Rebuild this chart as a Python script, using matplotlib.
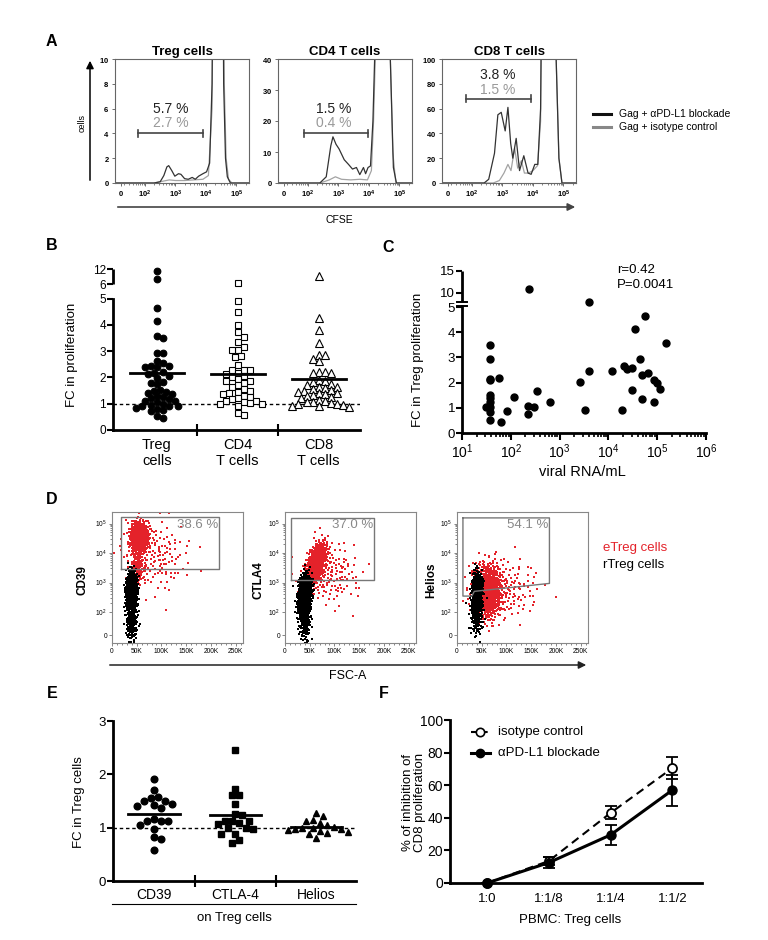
import numpy as np
import matplotlib
matplotlib.use('Agg')
import matplotlib.pyplot as plt
from matplotlib.transforms import blended_transform_factory
from matplotlib.patches import FancyArrowPatch
from matplotlib.lines import Line2D

plt.rcParams['font.family'] = ['Liberation Sans', 'DejaVu Sans']
plt.rcParams['mathtext.fontset'] = 'custom'
plt.rcParams['mathtext.rm'] = 'Liberation Sans'
plt.rcParams['mathtext.bf'] = 'Liberation Sans:bold'
plt.rcParams['mathtext.it'] = 'Liberation Sans:italic'
plt.rcParams['mathtext.sf'] = 'Liberation Sans'

# ------------------------------------------------------------------ data
# Panel A : CFSE histograms (x in log10 units of CFSE, y = cells)
hist_titles = ['Treg cells', 'CD4 T cells', 'CD8 T cells']
hist_ymax = [10, 40, 100]
hist_yticks = [[0, 2, 4, 6, 8, 10], [0, 10, 20, 30, 40], [0, 20, 40, 60, 80, 100]]
pct_blockade = ['5.7 %', '1.5 %', '3.8 %']
pct_isotype = ['2.7 %', '0.4 %', '1.5 %']
gate_lo = [1.77, 1.87, 1.79]
gate_hi = [3.90, 3.97, 3.92]

treg_blk_x = [1.02, 2.30, 2.50, 2.62, 2.72, 2.78, 2.88, 2.98, 3.10, 3.18, 3.30, 3.42, 3.55,
              3.65, 3.76, 3.90, 4.02, 4.12, 4.20, 4.30, 4.50, 4.58, 4.64, 4.70, 4.80, 5.41]
treg_blk_y = [0, 0, 0.1, 0.6, 1.3, 1.4, 1.0, 0.55, 0.75, 0.7, 0.35, 0.3, 0.45,
              0.3, 0.55, 0.75, 0.9, 1.6, 8, 40, 40, 8, 2, 0.5, 0, 0]
treg_iso_x = [1.02, 2.30, 2.60, 2.80, 3.00, 3.30, 3.60, 3.90, 4.08, 4.20, 4.30, 4.50, 4.60,
              4.66, 4.74, 4.85, 5.41]
treg_iso_y = [0, 0, 0.15, 0.25, 0.2, 0.2, 0.25, 0.3, 0.6, 6, 40, 40, 8, 2, 0.3, 0, 0]

cd4_blk_x = [1.02, 2.39, 2.60, 2.75, 2.82, 2.92, 3.02, 3.19, 3.33, 3.46, 3.59, 3.70, 3.82,
             3.89, 3.97, 4.05, 4.13, 4.20, 4.30, 4.62, 4.70, 4.80, 4.90, 5.41]
cd4_blk_y = [0, 0, 2, 12, 14.9, 12.5, 11, 7.5, 6, 4.5, 5, 2.7, 5, 3, 5, 5.5, 20, 45, 100,
             100, 40, 5, 0, 0]
cd4_iso_x = [1.02, 2.40, 2.70, 2.90, 3.10, 3.40, 3.70, 3.95, 4.08, 4.15, 4.22, 4.30, 4.62,
             4.70, 4.78, 4.88, 5.41]
cd4_iso_y = [0, 0, 1.0, 2.0, 1.2, 1.0, 1.2, 1.0, 4, 20, 45, 100, 100, 40, 10, 0, 0]

cd8_blk_x = [1.02, 2.40, 2.55, 2.74, 2.85, 2.96, 3.09, 3.18, 3.27, 3.34, 3.45, 3.56, 3.70,
             3.84, 3.94, 4.06, 4.16, 4.25, 4.32, 4.68, 4.76, 4.85, 4.95, 5.41]
cd8_blk_y = [0, 0, 3, 24, 55, 57, 42, 61, 32, 20, 36, 10, 22, 8, 7, 15, 15, 60, 250, 250,
             100, 20, 0, 0]
cd8_iso_x = [1.02, 2.70, 2.90, 3.05, 3.18, 3.28, 3.40, 3.50, 3.62, 3.72, 3.85, 4.00, 4.15,
             4.25, 4.32, 4.68, 4.76, 4.85, 4.95, 5.41]
cd8_iso_y = [0, 0, 2, 8, 15, 10, 28, 12, 18, 8, 8, 10, 14, 50, 250, 250, 100, 20, 0, 0]

legend_A = ['Gag + \u03b1PD-L1 blockade', 'Gag + isotype control']

# Panel B : fold change in proliferation
b_labels = ['Treg\ncells', 'CD4\nT cells', 'CD8\nT cells']
treg_fc = [11.2, 8.0, 4.63, 4.13, 3.56, 3.49, 2.93, 2.93, 2.62, 2.54, 2.45, 2.43, 2.41, 2.38,
           2.22, 2.18, 2.12, 2.05, 1.97, 1.82, 1.78, 1.74, 1.52, 1.50, 1.46, 1.40, 1.37, 1.30,
           1.25, 1.20, 1.16, 1.12, 1.10, 1.05, 1.00, 0.96, 0.93, 0.92, 0.90, 0.85, 0.80, 0.76,
           0.72, 0.55, 0.45]
cd4_fc = [6.5, 4.91, 4.47, 3.99, 3.74, 3.55, 3.34, 3.15, 3.05, 3.05, 2.83, 2.77, 2.49, 2.30,
          2.30, 2.28, 2.18, 2.12, 2.05, 2.00, 1.95, 1.88, 1.85, 1.80, 1.72, 1.62, 1.55, 1.50,
          1.45, 1.40, 1.36, 1.30, 1.26, 1.20, 1.16, 1.12, 1.10, 1.05, 1.02, 1.00, 0.98, 0.92,
          0.65, 0.57]
cd8_fc = [9.2, 4.24, 3.80, 3.30, 2.86, 2.86, 2.71, 2.61, 2.20, 2.20, 2.17, 2.17, 1.90, 1.85,
          1.83, 1.75, 1.70, 1.65, 1.64, 1.60, 1.55, 1.52, 1.50, 1.45, 1.42, 1.40, 1.35, 1.32,
          1.30, 1.25, 1.20, 1.15, 1.10, 1.08, 1.05, 1.02, 1.00, 0.98, 0.95, 0.92, 0.90, 0.88]
b_medians = [2.18, 2.12, 1.95]

# Panel C : viral load vs FC in Treg proliferation
c_viral = [31, 38, 38, 38, 38, 38, 38, 38, 38, 38, 38, 57, 63, 84, 119, 240, 229, 229, 302,
           351, 647, 2600, 3340, 4030, 4030, 11750, 18700, 20400, 24500, 29900, 29900, 35100,
           44400, 49400, 55000, 49400, 64600, 88000, 85700, 100000, 116000, 152000]
c_fc = [1.04, 3.51, 2.95, 2.16, 2.09, 1.52, 1.39, 1.22, 1.03, 0.83, 0.53, 2.18, 0.42, 0.88,
        1.43, 11.0, 1.09, 0.75, 1.03, 1.66, 1.25, 2.03, 0.90, 2.45, 8.0, 2.45, 0.93, 2.65,
        2.52, 2.56, 1.70, 4.13, 2.94, 2.32, 4.64, 1.36, 2.37, 1.22, 2.12, 1.99, 1.76, 3.58]
c_stats = ['r=0.42', 'P=0.0041']

# Panel D : FSC-A vs marker dot plots
d_markers = ['CD39', 'CTLA4', 'Helios']
d_pct = ['38.6 %', '37.0 %', '54.1 %']
# cell populations: (FSC-A centre [K], log10 centre, sd FSC [K], sd log10, corr, n events)
d_etreg = [
    [(55, 4.55, 9, 0.25, 0.0, 600), (52, 3.55, 7, 0.30, 0.0, 120), (85, 3.9, 35, 0.6, 0.0, 160)],
    [(62, 3.60, 10, 0.35, 0.55, 800), (90, 3.30, 30, 0.5, 0.0, 160)],
    [(62, 2.70, 14, 0.45, 0.0, 800), (95, 2.80, 35, 0.5, 0.0, 160)],
]
d_rtreg = [
    [(40, 2.75, 5, 0.28, 0.0, 1100), (40, 1.80, 6, 0.45, 0.0, 250)],
    [(40, 2.60, 6, 0.30, 0.2, 1200), (40, 1.80, 6, 0.40, 0.0, 220)],
    [(42, 2.90, 4, 0.15, 0.0, 1000), (40, 2.30, 6, 0.50, 0.0, 400)],
]
d_gates = [
    [(18, 3.46), (217, 3.46), (217, 5.22), (18, 5.22), (18, 3.46)],
    [(12, 3.08), (180, 3.08), (180, 5.19), (12, 5.19), (12, 3.08)],
    [(12, 5.19), (187, 5.19), (187, 2.97), (35, 2.70), (30, 2.54), (12, 2.54), (12, 5.19)],
]

# Panel E : FC in Treg cells for markers
e_labels = ['CD39', 'CTLA-4', 'Helios']
cd39_fc = [1.92, 1.70, 1.58, 1.55, 1.50, 1.50, 1.45, 1.42, 1.40, 1.36, 1.17, 1.12, 1.12, 1.12,
           1.05, 0.97, 0.82, 0.78, 0.58]
ctla4_fc = [2.45, 1.73, 1.61, 1.61, 1.44, 1.26, 1.23, 1.13, 1.13, 1.12, 1.08, 1.07, 1.00, 1.00,
            0.98, 0.89, 0.89, 0.76, 0.72]
helios_fc = [1.27, 1.22, 1.15, 1.12, 1.08, 1.05, 1.02, 1.00, 1.00, 0.98, 0.97, 0.95, 0.93,
             0.92, 0.90, 0.88, 0.80]
e_medians = [1.25, 1.23, 1.01]

# Panel F : suppression assay
f_ratios = ['1:0', '1:1/8', '1:1/4', '1:1/2']
iso_mean = [0, 13.5, 43, 70.5]
iso_err = [0, 2.5, 4, 6.5]
blk_mean = [0, 12.5, 29.5, 57]
blk_err = [0, 3.5, 6, 9.5]

# ------------------------------------------------------------------ helpers
W, H = 768, 940
fig = plt.figure(figsize=(W / 100, H / 100), dpi=100)


def rect(x0, y0, x1, y1):
    return [x0 / W, 1 - y1 / H, (x1 - x0) / W, (y1 - y0) / H]


def ftext(x, y, s, **kw):
    kw.setdefault('ha', 'center')
    kw.setdefault('va', 'center')
    fig.text(x / W, 1 - y / H, s, **kw)


def farrow(x0, y0, x1, y1, color='#333333', lw=1.1):
    fig.add_artist(FancyArrowPatch((x0 / W, 1 - y0 / H), (x1 / W, 1 - y1 / H),
                                   transform=fig.transFigure, arrowstyle='-|>',
                                   mutation_scale=11, lw=lw, color=color))


def fline(x0, y0, x1, y1, **kw):
    fig.add_artist(Line2D([x0 / W, x1 / W], [1 - y0 / H, 1 - y1 / H],
                          transform=fig.transFigure, **kw))


def swarm_offsets(ypx, d):
    ypx = np.asarray(ypx, float)
    order = np.argsort(-ypx)
    px_, py_ = [], []
    out = np.zeros(len(ypx))
    steps = [0.0]
    for k in range(1, 80):
        steps += [k * d / 2.0, -k * d / 2.0]
    for idx in order:
        y = ypx[idx]
        for c in steps:
            if all((c - a) ** 2 + (y - b) ** 2 >= d * d for a, b in zip(px_, py_)):
                out[idx] = c
                px_.append(c)
                py_.append(y)
                break
    return out


def halton(n, base, skip):
    res = np.zeros(n)
    for i in range(n):
        f, r, k = 1.0, 0.0, i + 1 + skip
        while k > 0:
            f /= base
            r += f * (k % base)
            k //= base
        res[i] = r
    return res


def cloud(cx, cy, sx, sy, rho, n, skip):
    u1 = np.clip(halton(n, 2, skip), 1e-6, 1)
    u2 = halton(n, 3, skip)
    r = np.sqrt(-2 * np.log(u1))
    z1 = r * np.cos(2 * np.pi * u2)
    z2 = r * np.sin(2 * np.pi * u2)
    x = cx + sx * z1
    y = cy + sy * (rho * z1 + np.sqrt(1 - rho ** 2) * z2)
    return x, y


def letter(x, y, s):
    ftext(x, y, s, fontsize=11.5, fontweight='bold')


# ------------------------------------------------------------------ panel A
letter(51, 42, 'A')
hist_left = [115, 278, 442]
blk_curves = [(treg_blk_x, treg_blk_y), (cd4_blk_x, cd4_blk_y), (cd8_blk_x, cd8_blk_y)]
iso_curves = [(treg_iso_x, treg_iso_y), (cd4_iso_x, cd4_iso_y), (cd8_iso_x, cd8_iso_y)]
bracket_frac = [0.40, 0.40, 0.68]
txt1_frac = [0.60, 0.60, 0.87]
txt2_frac = [0.48, 0.48, 0.75]
xt_pos = [1.21, 2, 3, 4, 5]
xt_lab = ['$\\mathbf{0}$', '$\\mathbf{10^{2}}$', '$\\mathbf{10^{3}}$',
          '$\\mathbf{10^{4}}$', '$\\mathbf{10^{5}}$']
minor_pos = [np.log10(k * 10.0 ** d) for d in range(1, 6) for k in range(2, 10)]
minor_pos = [m for m in minor_pos if 1.3 < m < 5.41]
for i in range(3):
    ax = fig.add_axes(rect(hist_left[i], 59, hist_left[i] + 134, 183))
    ym = hist_ymax[i]
    ax.plot(*iso_curves[i], color='#a3a3a3', lw=0.9)
    ax.plot(*blk_curves[i], color='#333333', lw=0.9)
    ax.set_xlim(1.02, 5.41)
    ax.set_ylim(0, ym)
    ax.set_xticks(xt_pos)
    ax.set_xticklabels(xt_lab)
    ax.set_xticks(minor_pos, minor=True)
    ax.set_yticks(hist_yticks[i])
    ax.set_yticklabels(['$\\mathbf{%d}$' % v for v in hist_yticks[i]])
    ax.tick_params(which='both', direction='out', length=2, width=0.6, color='#555555',
                   labelsize=5.5, pad=2)
    ax.tick_params(which='minor', length=1.5, width=0.5)
    for sp in ax.spines.values():
        sp.set_color('#666666')
        sp.set_linewidth(0.8)
    ax.set_title(hist_titles[i], fontsize=9.5, fontweight='bold', pad=3)
    yb = bracket_frac[i] * ym
    ax.plot([gate_lo[i], gate_hi[i]], [yb, yb], color='#444444', lw=1.2)
    for gx in (gate_lo[i], gate_hi[i]):
        ax.plot([gx, gx], [yb - 0.03 * ym, yb + 0.03 * ym], color='#444444', lw=1.2)
    xm = 2.85
    ax.text(xm, txt1_frac[i] * ym, pct_blockade[i], ha='center', va='center',
            fontsize=10, color='#222222')
    ax.text(xm, txt2_frac[i] * ym, pct_isotype[i], ha='center', va='center',
            fontsize=10, color='#999999')

farrow(90, 183, 90, 58, color='black', lw=1.1)
ftext(82, 123, 'cells', fontsize=6.5, rotation=90)
farrow(115, 207, 578, 207, color='#444444', lw=1.2)
ftext(339, 220, 'CFSE', fontsize=7.5)
fline(593, 114, 611, 114, color='#111111', lw=2.2)
fline(593, 127, 611, 127, color='#888888', lw=2.2)
ftext(619, 114, legend_A[0], fontsize=7.5, ha='left')
ftext(619, 127, legend_A[1], fontsize=7.5, ha='left')

# ------------------------------------------------------------------ panel B
letter(52, 245, 'B')
pxBx, pxBy = 81.0, 26.3


def tB(v):
    return v if v <= 5.5 else 5.55 + (v - 6) * 0.095


axB = fig.add_axes(rect(113, 430 - 6.25 * pxBy, 360, 430))
axB.set_xlim(-0.54, 2.51)
axB.set_ylim(0, 6.25)
b_groups = [(treg_fc, 'o', 'black', 4.8), (cd4_fc, 's', 'white', 4.6), (cd8_fc, '^', 'white', 5.2)]
for i, (vals, m, fc, ms) in enumerate(b_groups):
    ty = np.array([tB(v) for v in vals])
    off = swarm_offsets(ty * pxBy, 6.0) / pxBx
    axB.plot(i + off, ty, ls='none', marker=m, ms=ms, mfc=fc, mec='black', mew=0.8,
             clip_on=False, zorder=3)
    axB.plot([i - 0.333, i + 0.333], [b_medians[i]] * 2, color='black', lw=2, zorder=4)
axB.axhline(1, color='black', lw=1, ls=(0, (2.5, 2)), zorder=1)
axB.spines['top'].set_visible(False)
axB.spines['right'].set_visible(False)
axB.spines['left'].set_linewidth(2)
axB.spines['bottom'].set_linewidth(2)
axB.spines['left'].set_bounds(0, 5)
trB = blended_transform_factory(axB.transAxes, axB.transData)
axB.plot([0, 0], [tB(6), tB(12)], color='black', lw=2, transform=trB, clip_on=False,
         solid_capstyle='butt')
axB.set_yticks([0, 1, 2, 3, 4, 5, tB(6), tB(12)])
axB.set_yticklabels(['0', '1', '2', '3', '4', '5', '6', '12'])
axB.tick_params(axis='y', length=4, width=1.5, labelsize=8.5, pad=1)
axB.set_xticks([0.5, 1.5])
axB.set_xticklabels(['', ''])
axB.tick_params(axis='x', which='major', direction='inout', length=9, width=1.5)
axB.set_xticks([0, 1, 2], minor=True)
axB.set_xticklabels(b_labels, minor=True, fontsize=10.5, linespacing=1.15)
axB.tick_params(axis='x', which='minor', length=0, pad=6)
ftext(72, 355, 'FC in proliferation', fontsize=9.5, rotation=90)

# ------------------------------------------------------------------ panel C
letter(388, 247, 'C')
pxCy = 25.2


def tC(v):
    return v if v <= 5 else 5.556 + (v - 10) * 0.1746


axC = fig.add_axes(rect(462, 433 - 6.45 * pxCy, 706, 433))
axC.set_xscale('log')
axC.set_xlim(10, 1e6)
axC.set_ylim(0, 6.45)
axC.plot(c_viral, [tC(v) for v in c_fc], ls='none', marker='o', ms=5, color='black',
         clip_on=False, zorder=3)
axC.spines['top'].set_visible(False)
axC.spines['right'].set_visible(False)
axC.spines['left'].set_linewidth(2)
axC.spines['bottom'].set_linewidth(2)
axC.spines['left'].set_bounds(0, 5.03)
trC = blended_transform_factory(axC.transAxes, axC.transData)
axC.plot([0, 0], [5.19, 6.43], color='black', lw=2, transform=trC, clip_on=False,
         solid_capstyle='butt')
for yy in (5.03, 5.19):
    axC.plot([-0.02, 0.02], [yy, yy], color='black', lw=1.4, transform=trC, clip_on=False)
axC.set_yticks([0, 1, 2, 3, 4, 5, tC(10), tC(15)])
axC.set_yticklabels(['0', '1', '2', '3', '4', '5', '10', '15'])
axC.tick_params(axis='y', length=4, width=1.5, labelsize=9.5, pad=1)
axC.set_xticks([1e1, 1e2, 1e3, 1e4, 1e5, 1e6])
axC.set_xticklabels(['$10^{%d}$' % k for k in range(1, 7)])
axC.tick_params(axis='x', which='major', length=5, width=1.5, labelsize=10, pad=2)
axC.tick_params(axis='x', which='minor', length=3, width=1.2)
ftext(582, 472, 'viral RNA/mL', fontsize=10.5)
ftext(418, 360, 'FC in Treg proliferation', fontsize=9.5, rotation=90)
ftext(617, 270, c_stats[0], fontsize=9.5, ha='left')
ftext(617, 285, c_stats[1], fontsize=9.5, ha='left')

# ------------------------------------------------------------------ panel D
letter(52, 500, 'D')
d_left = [112, 285, 457]
d_ylab_x = [83, 258, 431]
red = '#e4222a'
skip = 0
for j in range(3):
    ax = fig.add_axes(rect(d_left[j], 512, d_left[j] + 131, 643))
    for (cx, cy, sx, sy, rho, n) in d_etreg[j]:
        x, y = cloud(cx, cy, sx, sy, rho, n, skip)
        skip += n + 17
        ax.scatter(x, y, s=0.7, c=red, marker='s', linewidths=0, rasterized=True)
    for (cx, cy, sx, sy, rho, n) in d_rtreg[j]:
        x, y = cloud(cx, cy, sx, sy, rho, n, skip)
        skip += n + 17
        ax.scatter(x, y, s=0.7, c='black', marker='s', linewidths=0, rasterized=True)
    gx, gy = zip(*d_gates[j])
    ax.plot(gx, gy, color='#777777', lw=1.0)
    ax.text(max(gx) - 1.5, 4.95, d_pct[j], ha='right', va='center', fontsize=9.5,
            color='#888888')
    ax.set_xlim(0, 265)
    ax.set_ylim(0.95, 5.39)
    ax.set_xticks([0, 50, 100, 150, 200, 250])
    ax.set_xticklabels(['0', '50K', '100K', '150K', '200K', '250K'])
    ax.set_xticks([v for v in range(10, 265, 10) if v % 50], minor=True)
    ax.set_yticks([1.22, 2, 3, 4, 5])
    ax.set_yticklabels(['0', '$10^{2}$', '$10^{3}$', '$10^{4}$', '$10^{5}$'])
    ax.set_yticks([np.log10(k * 10.0 ** d) for d in range(2, 5) for k in range(2, 10)],
                  minor=True)
    ax.tick_params(which='both', direction='out', length=2, width=0.5, color='#555555',
                   labelsize=4.8, pad=1.5)
    ax.tick_params(which='minor', length=1.2)
    for sp in ax.spines.values():
        sp.set_color('#888888')
        sp.set_linewidth(0.8)
    ftext(d_ylab_x[j], 580, d_markers[j], fontsize=8.5, fontweight='bold', rotation=90)

ftext(603, 548, 'eTreg cells', fontsize=9.5, color=red, ha='left')
ftext(603, 565, 'rTreg cells', fontsize=9.5, color='black', ha='left')
farrow(107, 665, 589, 665, color='#222222', lw=1.1)
ftext(348, 676, 'FSC-A', fontsize=9)

# ------------------------------------------------------------------ panel E
letter(52, 693, 'E')
pxEx, pxEy = 81.0, 53.3
axE = fig.add_axes(rect(113, 721, 356, 881))
axE.set_xlim(-0.506, 2.49)
axE.set_ylim(0, 3)
e_groups = [(cd39_fc, 'o', 4.8), (ctla4_fc, 's', 4.5), (helios_fc, '^', 5.0)]
for i, (vals, m, ms) in enumerate(e_groups):
    vals = np.array(vals)
    off = swarm_offsets(vals * pxEy, 7.0) / pxEx
    axE.plot(i + off, vals, ls='none', marker=m, ms=ms, color='black', zorder=3)
    axE.plot([i - 0.315, i + 0.315], [e_medians[i]] * 2, color='black', lw=2, zorder=4)
axE.axhline(1, color='black', lw=1, ls=(0, (2.5, 2)), zorder=1)
axE.spines['top'].set_visible(False)
axE.spines['right'].set_visible(False)
axE.spines['left'].set_linewidth(2)
axE.spines['bottom'].set_linewidth(2)
axE.set_yticks([0, 1, 2, 3])
axE.tick_params(axis='y', length=4, width=1.5, labelsize=9.5, pad=1)
axE.set_xticks([0.5, 1.5])
axE.set_xticklabels(['', ''])
axE.tick_params(axis='x', which='major', direction='inout', length=9, width=1.5)
axE.set_xticks([0, 1, 2], minor=True)
axE.set_xticklabels(e_labels, minor=True, fontsize=10)
axE.tick_params(axis='x', which='minor', length=0, pad=5)
fline(112, 904, 356, 904, color='black', lw=0.8)
ftext(234, 918, 'on Treg cells', fontsize=9.5)
ftext(79, 802, 'FC in Treg cells', fontsize=9.5, rotation=90)

# ------------------------------------------------------------------ panel F
letter(384, 693, 'F')
axF = fig.add_axes(rect(450, 720, 702, 883))
xf = np.arange(len(f_ratios))
axF.errorbar(xf, iso_mean, yerr=iso_err, color='black', ls=(0, (4, 2.5)), lw=1.5,
             marker='o', ms=6.5, mfc='white', mec='black', mew=1.3, capsize=4,
             elinewidth=1.3, capthick=1.3, clip_on=False, zorder=3)
axF.errorbar(xf, blk_mean, yerr=blk_err, color='black', ls='-', lw=2.2,
             marker='o', ms=6.5, mfc='black', mec='black', capsize=4,
             elinewidth=1.3, capthick=1.3, clip_on=False, zorder=4)
axF.set_xlim(-0.6, 3.48)
axF.set_ylim(0, 100)
axF.spines['top'].set_visible(False)
axF.spines['right'].set_visible(False)
axF.spines['left'].set_linewidth(2)
axF.spines['bottom'].set_linewidth(2)
axF.set_yticks([0, 20, 40, 60, 80, 100])
axF.tick_params(axis='y', length=4, width=1.5, labelsize=10, pad=1)
axF.set_xticks(xf)
axF.set_xticklabels(f_ratios)
axF.tick_params(axis='x', length=0, labelsize=9.5, pad=7)
# legend
lx0, lx1, lxm, ltx = 0.083, 0.159, 0.121, 0.19
axF.plot([lx0, lx1], [0.926, 0.926], transform=axF.transAxes, color='black', lw=1.5,
         ls=(0, (3, 2)), clip_on=False)
axF.plot([lxm], [0.926], transform=axF.transAxes, marker='o', ms=6, mfc='white',
         mec='black', mew=1.2, clip_on=False)
axF.plot([lx0, lx1], [0.798, 0.798], transform=axF.transAxes, color='black', lw=2.2,
         clip_on=False)
axF.plot([lxm], [0.798], transform=axF.transAxes, marker='o', ms=6, color='black',
         clip_on=False)
axF.text(ltx, 0.926, 'isotype control', transform=axF.transAxes, fontsize=9.5,
         va='center', ha='left')
axF.text(ltx, 0.798, '\u03b1PD-L1 blockade', transform=axF.transAxes, fontsize=9.5,
         va='center', ha='left')
ftext(414, 802, '% of inhibition of\nCD8 proliferation', fontsize=9.5, rotation=90,
      linespacing=1.1)
ftext(570, 920, 'PBMC: Treg cells', fontsize=9.5)

fig.savefig('out.png', dpi=100)
